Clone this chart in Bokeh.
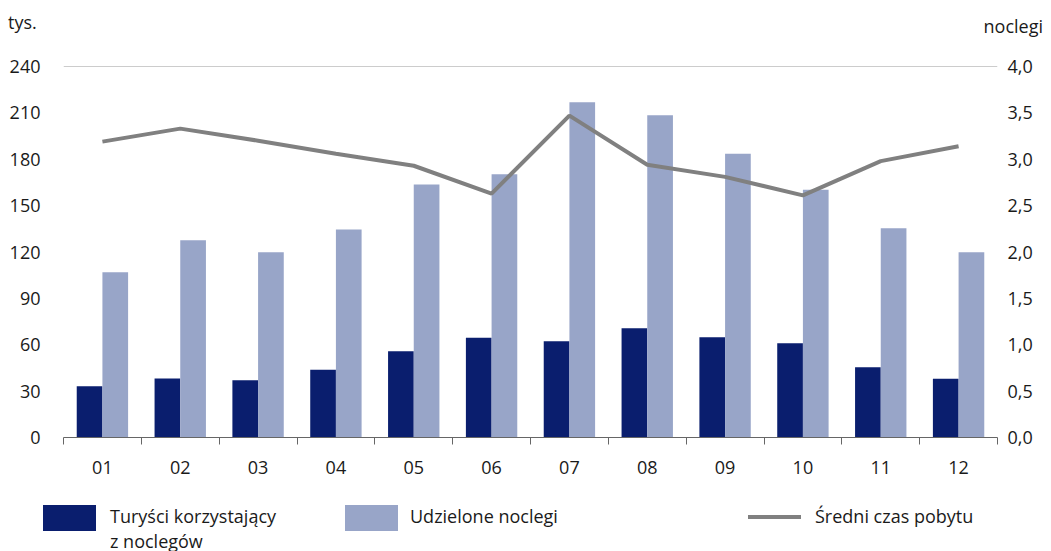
from bokeh.plotting import figure
from bokeh.layouts import column
from bokeh.models import Range1d, LinearAxis, FixedTicker, Span, ColumnDataSource, Div
from bokeh.embed import file_html
from bokeh.resources import INLINE

# ---- data ----
months = ["01", "02", "03", "04", "05", "06", "07", "08", "09", "10", "11", "12"]
tourists = [33.2, 38.2, 37.1, 43.8, 55.8, 64.5, 62.3, 70.7, 64.9, 61.0, 45.5, 38.0]
nights = [106.9, 127.6, 119.9, 134.5, 163.7, 170.3, 216.9, 208.5, 183.5, 160.2, 135.4, 119.9]
avg_stay = [3.19, 3.33, 3.20, 3.06, 2.93, 2.63, 3.47, 2.94, 2.81, 2.61, 2.98, 3.14]
left_ticks = [0, 30, 60, 90, 120, 150, 180, 210, 240]
right_ticks = [0.0, 0.5, 1.0, 1.5, 2.0, 2.5, 3.0, 3.5, 4.0]
right_labels = ["0,0", "0,5", "1,0", "1,5", "2,0", "2,5", "3,0", "3,5", "4,0"]
legend_labels = ["Turyści korzystający", "z noclegów", "Udzielone noclegi", "Średni czas pobytu"]
unit_left = "tys."
unit_right = "noclegi"

DARK = "#0a1e6e"
LIGHT = "#98a5c8"
LINEC = "#808080"
FONT = "Open Sans"
TXT = "#1a1a1a"
FS = "18px"
W = 1051

n = len(months)
centers = [i + 0.5 for i in range(n)]
bw = 0.33
src = ColumnDataSource(dict(
    xd=[c - bw / 2 for c in centers],
    xl=[c + bw / 2 for c in centers],
    xc=centers,
    tourists=tourists, nights=nights, stay=avg_stay,
))

BASE = (f"font-family:&quot;{FONT}&quot;,sans-serif;font-size:{FS};line-height:25px;"
        f"color:{TXT};white-space:nowrap;margin:0;padding:0;")


def box(left, top, w, h, color):
    return (f'<div style="position:absolute;left:{left}px;top:{top}px;width:{w}px;'
            f'height:{h}px;background:{color};"></div>')


def txt(s, top, left=None, right=None):
    pos = f"left:{left}px;" if left is not None else f"right:{right}px;"
    return f'<div style="position:absolute;{pos}top:{top}px;{BASE}">{s}</div>'


def panel(h, inner):
    return (f'<div style="position:relative;width:{W}px;height:{h}px;margin:0;padding:0;">'
            + inner + "</div>")


# ---- header with unit labels ----
HH = 40
head = Div(text=panel(HH, txt(unit_left, 9.5, left=8) + txt(unit_right, 13.5, right=8)),
           width=W, height=HH, margin=0)

# ---- main chart ----
p = figure(width=W, height=440, output_backend="svg", toolbar_location=None,
           x_range=Range1d(0, n), y_range=Range1d(left_ticks[0], left_ticks[-1]),
           min_border_left=63, min_border_right=54, min_border_top=26,
           min_border_bottom=43, x_axis_type=None, y_axis_type=None, margin=0)
p.outline_line_color = None
p.background_fill_color = "white"
p.border_fill_color = "white"
p.extra_y_ranges = {"r": Range1d(right_ticks[0], right_ticks[-1])}

xax = LinearAxis(ticker=FixedTicker(ticks=centers, minor_ticks=list(range(n + 1))),
                 major_label_overrides={c: m for c, m in zip(centers, months)})
xax.axis_line_color = "#666666"
xax.major_tick_line_color = None
xax.major_tick_out = 0
xax.major_tick_in = 0
xax.minor_tick_line_color = "#666666"
xax.minor_tick_out = 7
xax.minor_tick_in = 0
xax.major_label_standoff = 16
xax.major_label_text_font = FONT
xax.major_label_text_font_size = FS
xax.major_label_text_color = TXT
p.add_layout(xax, "below")

lax = LinearAxis(ticker=FixedTicker(ticks=left_ticks))
lax.axis_line_color = None
lax.major_tick_line_color = None
lax.minor_tick_line_color = None
lax.major_tick_out = 0
lax.major_label_standoff = 23
lax.major_label_text_font = FONT
lax.major_label_text_font_size = FS
lax.major_label_text_color = TXT
p.add_layout(lax, "left")

rax = LinearAxis(y_range_name="r", ticker=FixedTicker(ticks=right_ticks),
                 major_label_overrides={t: s for t, s in zip(right_ticks, right_labels)})
rax.axis_line_color = None
rax.major_tick_line_color = None
rax.minor_tick_line_color = None
rax.major_tick_out = 0
rax.major_label_standoff = 10
rax.major_label_text_font = FONT
rax.major_label_text_font_size = FS
rax.major_label_text_color = TXT
p.add_layout(rax, "right")

p.ygrid.ticker = FixedTicker(ticks=left_ticks[1:-1])
p.ygrid.grid_line_color = "#cccccc"
p.ygrid.grid_line_width = 1
p.xgrid.grid_line_color = None
p.add_layout(Span(location=left_ticks[-1], dimension="width", line_color="#999999", line_width=1))

p.vbar(x="xd", top="tourists", width=bw, bottom=0, source=src,
       fill_color=DARK, line_color=None)
p.vbar(x="xl", top="nights", width=bw, bottom=0, source=src,
       fill_color=LIGHT, line_color=None)
p.line(x="xc", y="stay", source=src, y_range_name="r",
       line_color=LINEC, line_width=4)

# ---- footer with legend ----
FH = 71
foot_inner = (box(43, 25, 53, 26, DARK)
              + txt(legend_labels[0] + "<br>" + legend_labels[1], 23.5, left=110)
              + box(345, 25, 53, 26, LIGHT)
              + txt(legend_labels[2], 23.5, left=410)
              + box(748, 35, 53, 4, LINEC)
              + txt(legend_labels[3], 23.5, left=815))
foot = Div(text=panel(FH, foot_inner), width=W, height=FH, margin=0)

layout = column(head, p, foot, spacing=0, margin=0)
open("out.html", "w").write(file_html(layout, INLINE))
